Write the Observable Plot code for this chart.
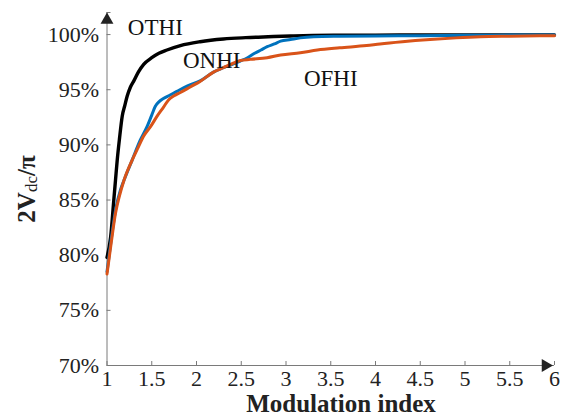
<!DOCTYPE html>
<html><head><meta charset="utf-8">
<script src="https://cdn.jsdelivr.net/npm/d3@7"></script>
<script src="https://cdn.jsdelivr.net/npm/@observablehq/plot@0.6"></script>
<style>body{margin:0;background:#fff} #chart{width:576px;height:418px}</style>
</head><body><div id="chart"></div>
<script>
// Axis settings
const xDomain = [1, 6];
const yDomain = [70, 102];
const xTicks = [1, 1.5, 2, 2.5, 3, 3.5, 4, 4.5, 5, 5.5, 6];
const yTicks = [70, 75, 80, 85, 90, 95, 100];
const xLabel = "Modulation index";

// Series: OTHI (black)
const othiX = [1.0, 1.04, 1.076, 1.095, 1.114, 1.14, 1.17, 1.2, 1.225, 1.26, 1.3, 1.35, 1.41, 1.5, 1.58, 1.67, 1.82, 2.04, 2.3, 2.55, 2.8, 3.05, 3.3, 3.6, 4.0, 4.5, 5.0, 5.5, 6.0];
const othiY = [79.8, 81.6, 85.0, 86.8, 88.6, 90.6, 92.6, 93.6, 94.4, 95.2, 95.8, 96.6, 97.3, 97.9, 98.3, 98.6, 99.0, 99.35, 99.6, 99.72, 99.8, 99.87, 99.92, 99.94, 99.95, 99.96, 99.96, 99.97, 99.97];
// Series: ONHI (blue)
const onhiX = [1.0, 1.05, 1.1, 1.15, 1.2, 1.28, 1.37, 1.45, 1.5, 1.54, 1.58, 1.63, 1.7, 1.78, 1.9, 2.04, 2.19, 2.3, 2.4, 2.49, 2.57, 2.65, 2.72, 2.79, 2.87, 2.94, 3.05, 3.16, 3.31, 3.6, 4.0, 4.5, 5.0, 5.5, 6.0];
const onhiY = [78.5, 81.6, 84.3, 85.9, 87.0, 88.6, 90.4, 91.7, 92.7, 93.5, 93.9, 94.2, 94.5, 94.85, 95.35, 95.8, 96.6, 97.0, 97.3, 97.6, 97.9, 98.3, 98.6, 98.9, 99.15, 99.4, 99.55, 99.7, 99.8, 99.85, 99.88, 99.9, 99.93, 99.95, 99.95];
// Series: OFHI (orange)
const ofhiX = [1.0, 1.05, 1.095, 1.14, 1.19, 1.28, 1.35, 1.41, 1.49, 1.56, 1.63, 1.69, 1.75, 1.82, 1.93, 2.04, 2.19, 2.3, 2.41, 2.49, 2.6, 2.79, 2.94, 3.16, 3.35, 3.6, 3.9, 4.05, 4.3, 4.61, 4.9, 5.17, 5.5, 6.0];
const ofhiY = [78.3, 81.3, 83.8, 85.4, 86.8, 88.6, 89.8, 90.8, 91.7, 92.6, 93.4, 94.1, 94.45, 94.75, 95.25, 95.75, 96.6, 97.0, 97.4, 97.65, 97.75, 97.9, 98.15, 98.35, 98.6, 98.8, 99.0, 99.15, 99.35, 99.55, 99.7, 99.8, 99.85, 99.9];

const seriesNames = ["OTHI", "ONHI", "OFHI"];
const seriesColors = ["#000000", "#0072BD", "#D95319"];
const seriesWidths = [3.4, 3, 3];
const labelX = [1.54, 2.17, 3.5];
const labelY = [100.6, 97.6, 96.0];

const seriesXs = [othiX, onhiX, ofhiX];
const seriesYs = [othiY, onhiY, ofhiY];
const series = seriesNames.map((name, i) => seriesXs[i].map((x, j) => ({x, y: seriesYs[i][j], name})));
const labels = seriesNames.map((name, i) => ({name, x: labelX[i], y: labelY[i]}));

const axisColor = "#7a7a7a";
const font = "'Liberation Serif', 'Times New Roman', serif";

const plot = Plot.plot({
  width: 576, height: 418,
  marginLeft: 106.5, marginRight: 22, marginTop: 12, marginBottom: 53,
  style: {fontFamily: font, fontSize: "22px", color: "#222", background: "white", overflow: "visible"},
  x: {domain: xDomain},
  y: {domain: yDomain},
  marks: [
    Plot.ruleX([xDomain[0]], {stroke: axisColor}),
    Plot.ruleY([yDomain[0]], {stroke: axisColor}),
    Plot.ruleX(xTicks, {x: d => d, y1: yDomain[0], y2: yDomain[0], insetTop: -4, stroke: axisColor}),
    Plot.ruleY(yTicks.concat([yDomain[1]]), {y: d => d, x1: xDomain[0], x2: xDomain[0], insetRight: -4, stroke: axisColor}),
    Plot.axisX(xTicks, {tickSize: 0, tickPadding: 5, tickFormat: d => String(d), label: null, fontSize: 22}),
    Plot.axisY(yTicks, {tickSize: 0, tickPadding: 8, tickFormat: d => d + "%", label: null, fontSize: 22}),
    ...series.map((s, i) => Plot.line(s, {x: "x", y: "y", stroke: seriesColors[i], strokeWidth: seriesWidths[i], curve: "monotone-x", strokeLinejoin: "round"})),
    Plot.text(labels, {x: "x", y: "y", text: "name", fontSize: 23, textAnchor: "middle", lineAnchor: "middle", fill: "#111"}),
    Plot.dot([0], {x: null, y: null, frameAnchor: "top-left", symbol: "triangle", r: 4.8, fill: "#222", stroke: null, dy: 7.5}),
    Plot.dot([0], {x: null, y: null, frameAnchor: "bottom-right", symbol: "triangle", r: 4.8, fill: "#222", stroke: null, rotate: 90, dx: -9})
  ]
});

const svg = d3.select(plot);
svg.append("text")
  .attr("x", 341).attr("y", 412)
  .attr("text-anchor", "middle")
  .attr("font-family", font).attr("font-weight", "bold").attr("font-size", 25).attr("fill", "#222")
  .text(xLabel);
const yl = svg.append("text")
  .attr("transform", "translate(35,189) rotate(-90)")
  .attr("text-anchor", "middle")
  .attr("font-family", font).attr("fill", "#222");
yl.append("tspan").attr("font-weight", "bold").attr("font-size", 25).text("2V");
yl.append("tspan").attr("font-size", 17).attr("dy", 2).text("dc");
yl.append("tspan").attr("font-weight", "bold").attr("font-size", 25).attr("dy", -2).text("/π");

document.getElementById("chart").appendChild(plot);
</script>
</body></html>
